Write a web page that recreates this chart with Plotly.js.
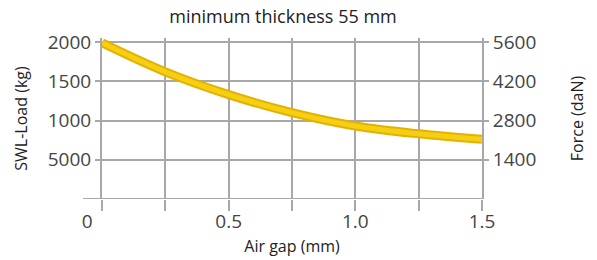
<!DOCTYPE html>
<html>
<head>
<meta charset="utf-8">
<script src="https://cdn.plot.ly/plotly-3.0.1.min.js"></script>
<style>html,body{margin:0;padding:0;background:#fff;}#chart{width:597px;height:260px;}</style>
</head>
<body>
<div id="chart"></div>
<script>
// Data
var airGap = [0, 0.25, 0.5, 0.75, 1.0, 1.25, 1.5];
var swlLoad = [1990, 1620, 1330, 1100, 930, 830, 760];

var xTickVals = [0, 0.25, 0.5, 0.75, 1.0, 1.25, 1.5];
var xTickText = ["0\u00a0\u00a0\u00a0\u00a0\u00a0\u00a0", "", "0.5", "", "1.0", "", "1.5"];
var yTickVals = [500, 1000, 1500, 2000];
var yTickText = ["5000", "1000", "1500", "2000"];
var y2TickVals = [1400, 2800, 4200, 5600];
var y2TickText = ["1400", "2800", "4200", "5600"];

var yMax = 2051;
var forceRatio = 2.8;

var fontFam = "Open Sans, sans-serif";
var gridCol = "#a8a8a8";

var traces = [
  {x: airGap, y: swlLoad, mode: "lines", line: {shape: "spline", smoothing: 1, color: "#E6B000", width: 9}, hoverinfo: "skip", showlegend: false},
  {x: airGap, y: swlLoad, mode: "lines", line: {shape: "spline", smoothing: 1, color: "#F5CF12", width: 5}, hoverinfo: "skip", showlegend: false},
  {x: [airGap[0]], y: [0], yaxis: "y2", mode: "markers", marker: {opacity: 0}, hoverinfo: "skip", showlegend: false}
];

var layout = {
  width: 597, height: 260,
  margin: {l: 102, r: 115, t: 38, b: 61, pad: 0},
  paper_bgcolor: "#fff", plot_bgcolor: "#fff",
  font: {family: fontFam, color: "#333", size: 18},
  title: {text: "minimum thickness 55 mm", x: 0.474, xanchor: "center", y: 0.935, yanchor: "middle", font: {family: fontFam, size: 18, color: "#222"}},
  xaxis: {
    range: [0, 1.5], tickmode: "array", tickvals: xTickVals, ticktext: xTickText,
    showgrid: true, gridcolor: gridCol, gridwidth: 2,
    ticks: "outside", ticklen: 11, tickwidth: 2, tickcolor: gridCol,
    ticklabelstandoff: -6,
    showline: false, zeroline: false,
    tickfont: {size: 19, color: "#444"},
    title: {text: "Air gap (mm)", font: {size: 16, color: "#222"}, standoff: 8}
  },
  yaxis: {
    range: [0, yMax], tickmode: "array", tickvals: yTickVals, ticktext: yTickText,
    showgrid: true, gridcolor: gridCol, gridwidth: 2,
    ticks: "outside", ticklen: 5, tickwidth: 2, tickcolor: gridCol,
    showline: true, linecolor: gridCol, linewidth: 2,
    zeroline: false,
    tickfont: {size: 19, color: "#444"},
    title: {text: "SWL-Load (kg)", font: {size: 16, color: "#222"}, standoff: 16}
  },
  yaxis2: {
    overlaying: "y", side: "right",
    range: [0, yMax * forceRatio], tickmode: "array", tickvals: y2TickVals, ticktext: y2TickText,
    showgrid: false, ticks: "outside", ticklen: 5, tickwidth: 2, tickcolor: gridCol,
    showline: true, linecolor: gridCol, linewidth: 2,
    zeroline: false,
    tickfont: {size: 19, color: "#444"},
    title: {text: "Force (daN)", font: {size: 16, color: "#222"}, standoff: 37}
  },
  shapes: [
    {type: "line", xref: "paper", yref: "y", x0: -0.05, x1: 1.0, y0: 0, y1: 0, line: {color: gridCol, width: 2}, layer: "below"}
  ]
};

Plotly.newPlot("chart", traces, layout, {staticPlot: true, displayModeBar: false});
</script>
</body>
</html>
